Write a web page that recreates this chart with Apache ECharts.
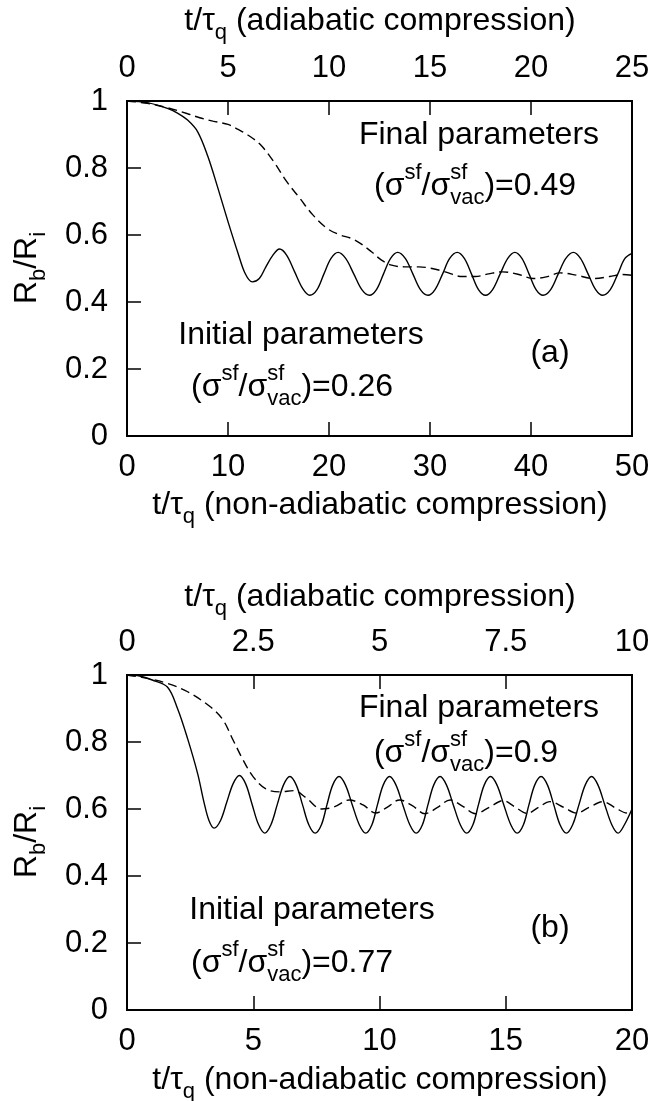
<!DOCTYPE html>
<html>
<head>
<meta charset="utf-8">
<script src="https://cdn.jsdelivr.net/npm/echarts@6/dist/echarts.min.js"></script>
<style>
html, body { margin: 0; padding: 0; background: #fff; }
#chart { width: 654px; height: 1101px; }
</style>
</head>
<body>
<div id="chart"></div>
<script>
const FONT = '"Liberation Sans", Arial, Helvetica, sans-serif';

// Panel (a): time in units of tau_q (non-adiabatic scale) and R_b/R_i
const aSolidT = [0, 2, 4, 5, 6, 7, 8, 9, 10, 11, 11.7, 12.4, 13.1, 13.75, 14.45, 15.1, 15.8, 16.6, 17.4, 18.1,
  18.8, 19.5, 20.2, 20.9, 21.65, 22.45, 23.25, 24.0, 24.7, 25.4, 26.1, 26.8, 27.55, 28.3, 29.05, 29.8,
  30.5, 31.25, 31.95, 32.7, 33.4, 34.1, 34.8, 35.5, 36.2, 36.95, 37.7, 38.4, 39.1, 39.8, 40.5, 41.2,
  41.95, 42.7, 43.45, 44.2, 44.9, 45.65, 46.4, 47.1, 47.85, 48.6, 49.3, 50];
const aSolidR = [1, 0.995, 0.978, 0.964, 0.943, 0.908, 0.835, 0.74, 0.64, 0.545, 0.485, 0.46, 0.47, 0.505, 0.54, 0.558, 0.54, 0.49, 0.44, 0.42,
  0.436, 0.484, 0.53, 0.548, 0.53, 0.484, 0.437, 0.42, 0.437, 0.484, 0.53, 0.548, 0.53, 0.484, 0.437, 0.42,
  0.437, 0.484, 0.53, 0.548, 0.53, 0.484, 0.437, 0.42, 0.437, 0.484, 0.53, 0.548, 0.53, 0.484, 0.437, 0.42,
  0.437, 0.484, 0.53, 0.548, 0.53, 0.484, 0.437, 0.42, 0.437, 0.484, 0.53, 0.545];
const aDashT = [0, 2, 4, 6, 7.2, 8.5, 10, 11, 11.9, 13.2, 14.5, 15.8, 17.1, 18.4, 19.8, 21.1, 22.2, 23.1, 24.2, 25.2,
  26.2, 27.5, 28.9, 30.2, 31.5, 33.2, 34.5, 35.8, 37.2, 38.7, 40.2, 41.5, 42.9, 44.5, 46.2, 47.8, 49.0, 50];
const aDashR = [1, 0.993, 0.98, 0.962, 0.95, 0.94, 0.93, 0.915, 0.9, 0.87, 0.82, 0.76, 0.71, 0.66, 0.62, 0.6, 0.59, 0.575, 0.55, 0.525,
  0.51, 0.505, 0.505, 0.5, 0.49, 0.476, 0.476, 0.484, 0.49, 0.483, 0.47, 0.475, 0.487, 0.48, 0.47, 0.476, 0.482, 0.48];

// Panel (b)
const bSolidT = [0, 0.5, 1, 1.6, 2.0, 2.4, 2.8, 3.05, 3.25, 3.45, 3.7, 3.95, 4.2, 4.45, 4.7, 4.95, 5.2, 5.45,
  5.7, 5.95, 6.2, 6.45, 6.7, 6.95, 7.2, 7.45, 7.7, 7.92, 8.15, 8.4, 8.65, 8.92, 9.2, 9.45,
  9.7, 9.92, 10.15, 10.4, 10.65, 10.92, 11.2, 11.45, 11.7, 11.92, 12.15, 12.4, 12.65, 12.92, 13.2, 13.45,
  13.7, 13.92, 14.15, 14.4, 14.65, 14.92, 15.2, 15.45, 15.7, 15.92, 16.15, 16.4, 16.65, 16.9, 17.15, 17.4,
  17.65, 17.9, 18.15, 18.4, 18.65, 18.92, 19.2, 19.45, 19.7, 20];
const bSolidR = [1, 0.997, 0.985, 0.964, 0.9, 0.81, 0.705, 0.62, 0.565, 0.543, 0.565, 0.62, 0.675, 0.7, 0.675, 0.615, 0.555, 0.528,
  0.553, 0.613, 0.672, 0.697, 0.672, 0.613, 0.553, 0.528, 0.553, 0.613, 0.672, 0.697, 0.672, 0.613, 0.553, 0.528,
  0.553, 0.613, 0.672, 0.697, 0.672, 0.613, 0.553, 0.528, 0.553, 0.613, 0.672, 0.697, 0.672, 0.613, 0.553, 0.528,
  0.553, 0.613, 0.672, 0.697, 0.672, 0.613, 0.553, 0.528, 0.553, 0.613, 0.672, 0.697, 0.672, 0.613, 0.553, 0.528,
  0.553, 0.613, 0.672, 0.697, 0.672, 0.613, 0.553, 0.528, 0.553, 0.6];
const bDashT = [0, 0.8, 1.6, 2.4, 3.3, 3.8, 4.2, 4.6, 5.0, 5.5, 6.05, 6.6, 7.1, 7.7, 8.2, 8.8, 9.35, 9.85, 10.3, 10.8,
  11.3, 11.8, 12.3, 12.8, 13.3, 13.8, 14.35, 14.9, 15.35, 15.85, 16.3, 16.75, 17.3, 17.8, 18.3, 18.85, 19.35, 19.8, 20];
const bDashR = [1, 0.99, 0.975, 0.95, 0.905, 0.866, 0.806, 0.746, 0.696, 0.66, 0.651, 0.655, 0.633, 0.6, 0.606, 0.627, 0.612, 0.588, 0.605, 0.627,
  0.61, 0.586, 0.605, 0.627, 0.608, 0.586, 0.605, 0.625, 0.607, 0.587, 0.605, 0.622, 0.605, 0.588, 0.605, 0.622, 0.603, 0.588, 0.59];

// Axis ranges
const aBottom = { min: 0, max: 50, step: 10 };
const aTop = { min: 0, max: 25, step: 5 };
const bBottom = { min: 0, max: 20, step: 5 };
const bTop = { min: 0, max: 10, step: 2.5 };
const yRange = { min: 0, max: 1, step: 0.2 };

const zip = (t, r) => t.map((v, i) => [v, r[i]]);

// Text with sub/superscripts, built from pieces [text, size, dy, stackWithNext]
const measureCtx = document.createElement('canvas').getContext('2d');
function textWidth(s, size) {
  measureCtx.font = size + 'px ' + FONT;
  return measureCtx.measureText(s).width;
}
function richText(pieces, cx, cy, rotation) {
  let x = 0, pending = null;
  const kids = [];
  for (const [t, size, dy, stack] of pieces) {
    const w = textWidth(t, size);
    kids.push({ type: 'text', x: x, y: dy || 0,
      style: { text: t, fontSize: size, fontFamily: FONT, fill: '#000', align: 'left', verticalAlign: 'middle' } });
    if (stack) { pending = w; }
    else { x += pending != null ? Math.max(w, pending) : w; pending = null; }
  }
  kids.forEach(k => { k.x -= x / 2; });
  return { type: 'group', x: cx, y: cy, rotation: rotation || 0, silent: true, children: kids };
}

const M = 32, S = 22, UP = -13, DN = 12;
const ratio = v => [['(σ', M, 0], ['sf', S, UP], ['/σ', M, 0], ['sf', S, UP, true], ['vac', S, DN], [')=' + v, M, 0]];
const adiaTitle = [['t/τ', M, 0], ['q', S, DN], [' (adiabatic compression)', M, 0]];
const nonAdiaTitle = [['t/τ', M, 0], ['q', S, DN], [' (non-adiabatic compression)', M, 0]];
const yTitle = [['R', M, 0], ['b', S, DN], ['/R', M, 0], ['i', S, DN]];

const axisLine = { show: true, lineStyle: { color: '#000', width: 2 } };
const label = { color: '#000', fontSize: 31, fontFamily: FONT };

function xAxis(grid, r, pos) {
  return {
    type: 'value', gridIndex: grid, position: pos, min: r.min, max: r.max, interval: r.step,
    axisLine: axisLine, splitLine: { show: false },
    axisTick: { show: true, inside: true, length: 14, lineStyle: { color: '#000', width: 1.5 } },
    axisLabel: Object.assign({ margin: pos === 'top' ? 17 : 16 }, label)
  };
}
function yAxis(grid) {
  return {
    type: 'value', gridIndex: grid, min: yRange.min, max: yRange.max, interval: yRange.step,
    axisLine: axisLine, splitLine: { show: false },
    axisTick: { show: true, inside: true, length: 14, lineStyle: { color: '#000', width: 1.5 } },
    axisLabel: Object.assign({ margin: 19 }, label)
  };
}
function line(data, xi, yi, dashed) {
  return {
    type: 'line', xAxisIndex: xi, yAxisIndex: yi, data: data, showSymbol: false, smooth: 0.35,
    lineStyle: { color: '#000', width: 1.4, type: dashed ? [9, 5] : 'solid' }, silent: true
  };
}

const grids = [
  { left: 127, top: 101, width: 505, height: 335 },
  { left: 127, top: 675, width: 505, height: 335 }
].map(g => Object.assign({ show: true, borderColor: '#000', borderWidth: 2, backgroundColor: 'transparent' }, g));

const option = {
  animation: false,
  backgroundColor: '#fff',
  grid: grids,
  xAxis: [xAxis(0, aBottom, 'bottom'), xAxis(0, aTop, 'top'), xAxis(1, bBottom, 'bottom'), xAxis(1, bTop, 'top')],
  yAxis: [yAxis(0), yAxis(1)],
  series: [
    line(zip(aSolidT, aSolidR), 0, 0, false),
    line(zip(aDashT, aDashR), 0, 0, true),
    line(zip(bSolidT, bSolidR), 2, 1, false),
    line(zip(bDashT, bDashR), 2, 1, true)
  ],
  graphic: [
    richText(adiaTitle, 380, 21),
    richText(nonAdiaTitle, 380, 505),
    richText(yTitle, 27, 268, Math.PI / 2),
    richText([['Final parameters', M, 0]], 479, 135),
    richText(ratio('0.49'), 475, 186),
    richText([['Initial parameters', M, 0]], 301, 335),
    richText(ratio('0.26'), 292, 387),
    richText([['(a)', M, 0]], 550, 353),

    richText(adiaTitle, 380, 597),
    richText(nonAdiaTitle, 380, 1080),
    richText(yTitle, 27, 842, Math.PI / 2),
    richText([['Final parameters', M, 0]], 479, 708),
    richText(ratio('0.9'), 466, 753),
    richText([['Initial parameters', M, 0]], 312, 910),
    richText(ratio('0.77'), 292, 963),
    richText([['(b)', M, 0]], 550, 928)
  ]
};

echarts.init(document.getElementById('chart'), null, { renderer: 'canvas' }).setOption(option);
</script>
</body>
</html>
